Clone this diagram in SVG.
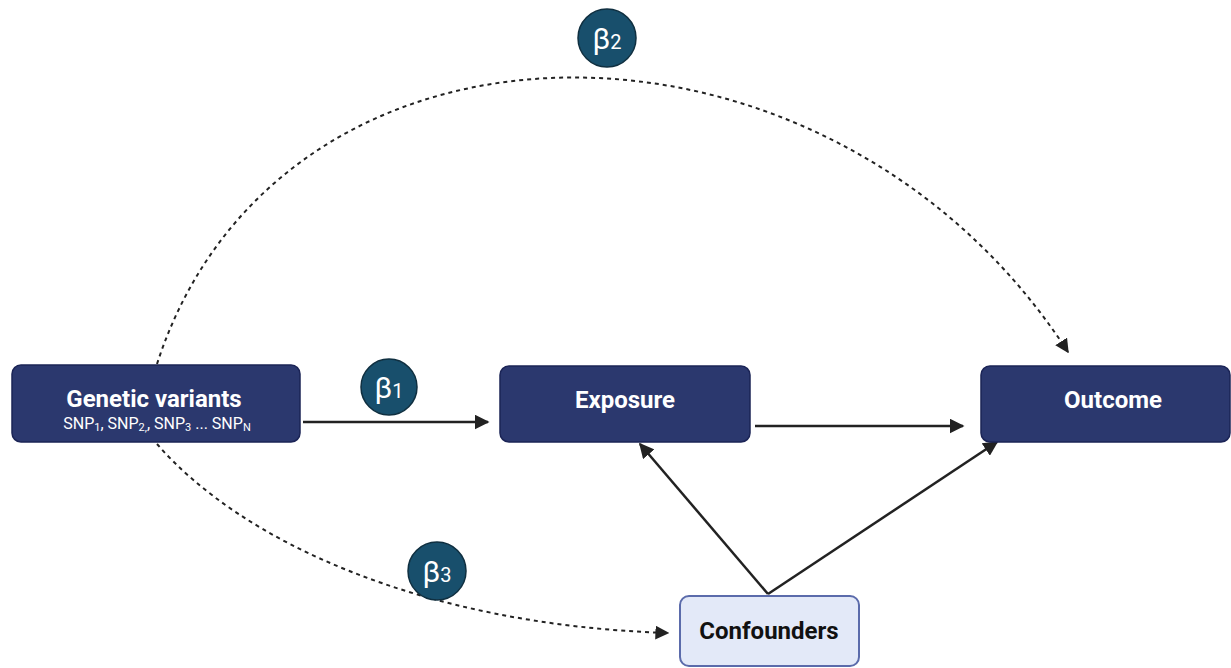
<svg xmlns="http://www.w3.org/2000/svg" width="1231" height="668" viewBox="0 0 1231 668">
<defs>
<style>
.node{fill:#2b386e;stroke:#1b2456;stroke-width:1.5}
.conf{fill:#e3e9f8;stroke:#5b6bab;stroke-width:2}
.title{font-family:Roboto,"Liberation Sans",sans-serif;font-weight:bold;font-size:24px;fill:#ffffff;text-anchor:middle}
.sub{font-family:Roboto,"Liberation Sans",sans-serif;font-size:16px;fill:#ffffff;text-anchor:middle}
.beta{fill:#184f6c;stroke:#0f2f40;stroke-width:1.5}
.btxt{font-family:Roboto,"Liberation Sans",sans-serif;font-size:30px;fill:#ffffff;text-anchor:middle}
.solid{fill:none;stroke:#222222;stroke-width:2.5}
.dash{fill:none;stroke:#222222;stroke-width:2;stroke-dasharray:4 4}
</style>
<marker id="ah" viewBox="0 0 10 10" refX="9" refY="5" markerWidth="6" markerHeight="6" markerUnits="strokeWidth" orient="auto">
<path d="M0,0 L10,5 L0,10 z" fill="#222222"/>
</marker>
<marker id="ahd" viewBox="0 0 10 10" refX="9" refY="5" markerWidth="7" markerHeight="7" markerUnits="strokeWidth" orient="auto">
<path d="M0,0 L10,5 L0,10 z" fill="#222222"/>
</marker>
</defs>
<rect width="1231" height="668" fill="#ffffff"/>
<g id="connectors">
<path class="dash" d="M157,364 C280,-16 830,-16 1068,352" marker-end="url(#ahd)"/>
<path class="dash" d="M157,444 C240,540 420,625 668,633" marker-end="url(#ahd)"/>
<line class="solid" x1="303" y1="422" x2="488" y2="422" marker-end="url(#ah)"/>
<line class="solid" x1="755" y1="426" x2="963" y2="426" marker-end="url(#ah)"/>
<line class="solid" x1="768" y1="594" x2="640" y2="444" marker-end="url(#ah)"/>
<line class="solid" x1="768" y1="594" x2="997" y2="442" marker-end="url(#ah)"/>
</g>
<g id="genetic">
<rect class="node" x="12" y="365" width="288" height="77" rx="9"/>
<text class="title" x="154" y="407">Genetic variants</text>
<text class="sub" x="157" y="429">SNP<tspan font-size="11" dy="2">1</tspan><tspan dy="-2">, SNP</tspan><tspan font-size="11" dy="2">2,</tspan><tspan dy="-2">, SNP</tspan><tspan font-size="11" dy="2">3</tspan><tspan dy="-2">  ... SNP</tspan><tspan font-size="11" dy="2">N</tspan></text>
</g>
<g id="exposure">
<rect class="node" x="500" y="366" width="250" height="76" rx="9"/>
<text class="title" x="625" y="408">Exposure</text>
</g>
<g id="outcome">
<rect class="node" x="981" y="366" width="249" height="76" rx="9"/>
<text class="title" x="1113" y="408">Outcome</text>
</g>
<g id="confounders">
<rect class="conf" x="680" y="596" width="179" height="70" rx="9"/>
<text class="title" x="769" y="639" style="fill:#111111">Confounders</text>
</g>
<g id="beta1">
<circle class="beta" cx="389" cy="387" r="28"/>
<text class="btxt" x="389" y="398">β<tspan font-size="20">1</tspan></text>
</g>
<g id="beta2">
<circle class="beta" cx="607" cy="38" r="29"/>
<text class="btxt" x="607" y="49">β<tspan font-size="20">2</tspan></text>
</g>
<g id="beta3">
<circle class="beta" cx="437" cy="571" r="29"/>
<text class="btxt" x="437" y="582">β<tspan font-size="20">3</tspan></text>
</g>
</svg>
